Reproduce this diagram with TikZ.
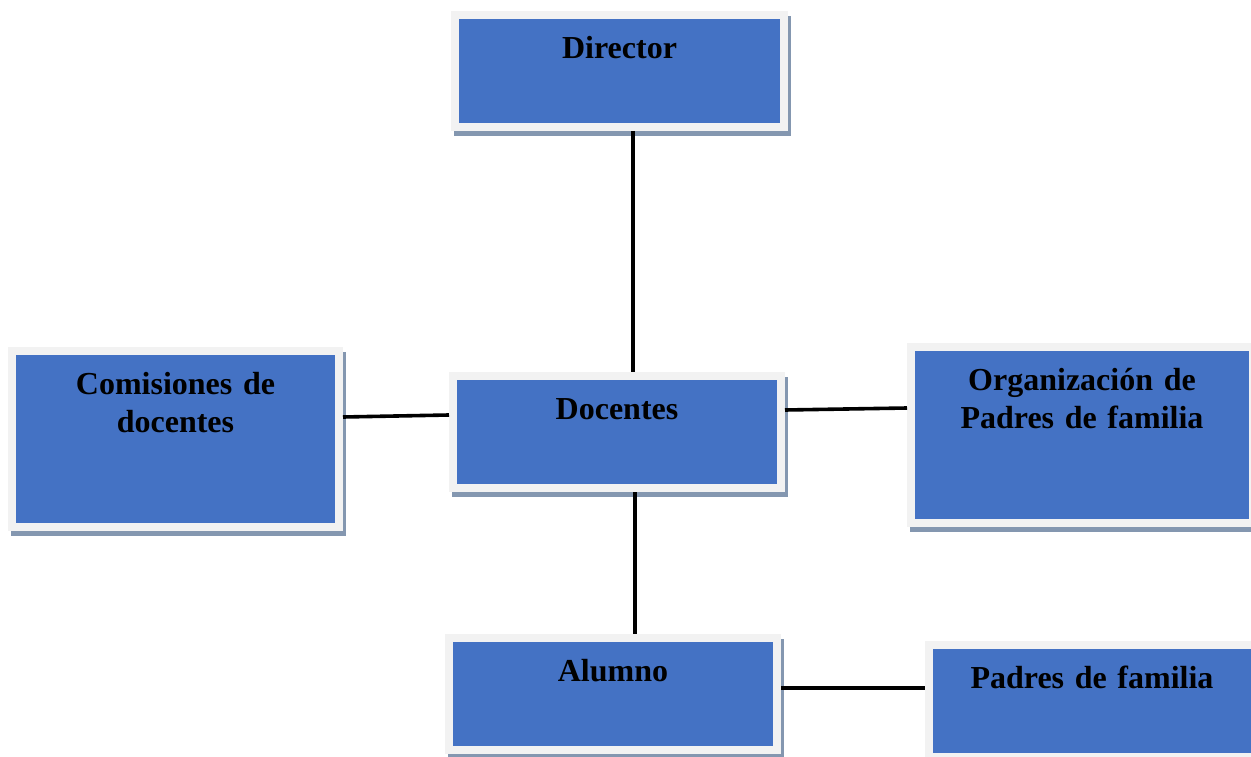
\documentclass[tikz,border=0pt]{standalone}
\usepackage{fontspec}
\setmainfont{Liberation Serif}
\usetikzlibrary{shadows}
\definecolor{boxblue}{HTML}{4472C4}
\definecolor{boxrim}{HTML}{F2F2F2}
\definecolor{boxshade}{HTML}{8497B0}
\tikzstyle{org}=[
  x=1pt,y=-1pt,line width=3.6pt,font=\bfseries\fontsize{32}{38}\selectfont
]
\tikzstyle{orgbox}=[
  draw=boxrim,line width=8pt,fill=boxblue,inner sep=0pt,align=center,text height=43.5pt,
  drop shadow={shadow xshift=3pt,shadow yshift=-5pt,fill=boxshade,draw=boxshade,opacity=1}
]
\tikzstyle{smallbox}=[
  orgbox,text width=328pt,text depth=68.5pt
]
\tikzstyle{bigbox}=[
  orgbox,text depth=132.5pt
]
\begin{document}
\begin{tikzpicture}[org]
      \useasboundingbox (0,0) rectangle (1251,757);
      \node (director) at (619.5,71) [smallbox,text width=329pt] {Director};
      \node (docentes) at (617,432) [smallbox] {Docentes};
      \node (comisiones) at (175.5,439) [bigbox,text width=327pt] {Comisiones de\\docentes};
      \node (organizacion) at (1082,435) [bigbox,text width=342pt] {Organización de\\Padres de familia};
      \node (alumno) at (613,693.5) [smallbox] {Alumno};
      \node (padres) at (1092,701) [smallbox,text width=326pt] {Padres de familia};
      \draw ([xshift=13.5pt]director.south) -- ([xshift=16pt]docentes.north);
      \draw ([xshift=18pt]docentes.south) -- ([xshift=22pt]alumno.north);
      \draw ([yshift=22pt]comisiones.east) -- ([yshift=17pt]docentes.west);
      \draw ([yshift=22pt]docentes.east) -- ([yshift=27pt]organizacion.west);
      \draw ([yshift=5.5pt]alumno.east) -- ([yshift=13pt]padres.west);
    \end{tikzpicture}
\end{document}
